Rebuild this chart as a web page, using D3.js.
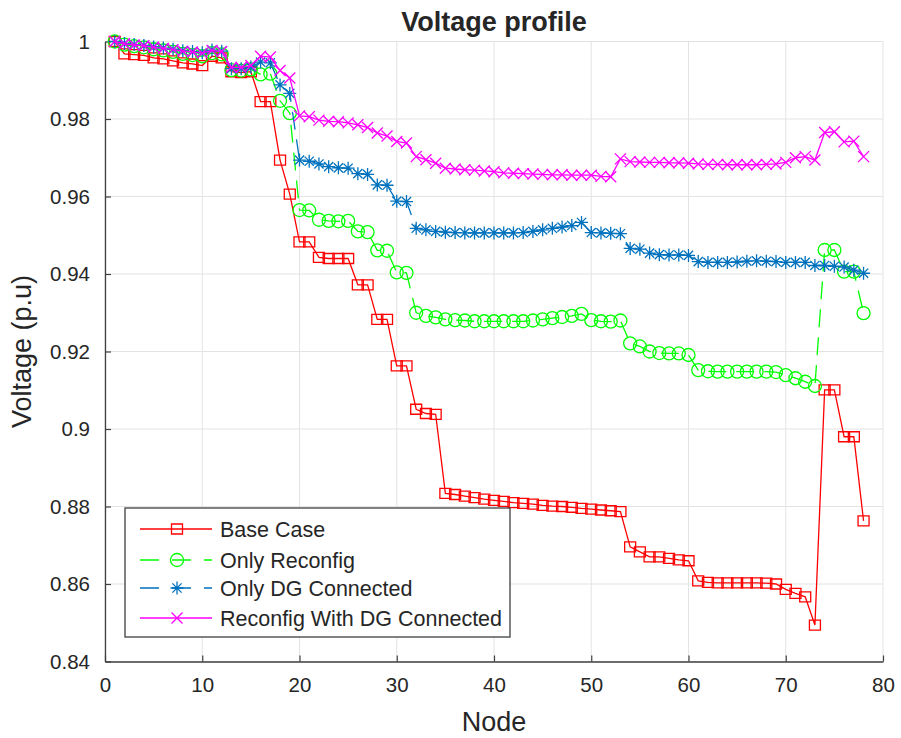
<!DOCTYPE html>
<html>
<head>
<meta charset="utf-8">
<script src="https://cdn.jsdelivr.net/npm/d3@7"></script>
<style>
  body { margin: 0; background: #fff; }
  text { font-family: "Liberation Sans", Arial, sans-serif; fill: #262626; }
</style>
</head>
<body>
<div id="chart"></div>
<script>
// Chart data
var nodes = d3.range(1, 79);

var baseCase = [1.0000, 0.9968, 0.9966, 0.9964, 0.9958, 0.9955, 0.9950, 0.9945, 0.9942, 0.9938,
  0.9962, 0.9958, 0.9922, 0.9920, 0.9922, 0.9845, 0.9845, 0.9694, 0.9606, 0.9483,
  0.9483, 0.9443, 0.9440, 0.9440, 0.9440, 0.9372, 0.9372, 0.9283, 0.9283, 0.9163,
  0.9163, 0.9051, 0.9040, 0.9038, 0.8834, 0.8831, 0.8827, 0.8823, 0.8819, 0.8816,
  0.8813, 0.8810, 0.8808, 0.8806, 0.8803, 0.8801, 0.8800, 0.8798, 0.8795, 0.8793,
  0.8791, 0.8789, 0.8787, 0.8696, 0.8683, 0.8670, 0.8670, 0.8666, 0.8662, 0.8660,
  0.8608, 0.8604, 0.8603, 0.8603, 0.8603, 0.8603, 0.8603, 0.8602, 0.8600, 0.8586,
  0.8576, 0.8567, 0.8494, 0.9101, 0.9101, 0.8980, 0.8980, 0.8763];

var onlyReconfig = [1.0000, 0.9992, 0.9988, 0.9985, 0.9980, 0.9977, 0.9973, 0.9968, 0.9965, 0.9962,
  0.9970, 0.9967, 0.9926, 0.9925, 0.9928, 0.9915, 0.9917, 0.9847, 0.9815, 0.9565,
  0.9564, 0.9540, 0.9537, 0.9536, 0.9537, 0.9510, 0.9508, 0.9461, 0.9460, 0.9404,
  0.9403, 0.9300, 0.9292, 0.9288, 0.9283, 0.9281, 0.9280, 0.9278, 0.9278, 0.9278,
  0.9278, 0.9278, 0.9278, 0.9280, 0.9283, 0.9286, 0.9289, 0.9292, 0.9297, 0.9281,
  0.9278, 0.9277, 0.9280, 0.9221, 0.9213, 0.9200, 0.9196, 0.9195, 0.9195, 0.9191,
  0.9152, 0.9149, 0.9148, 0.9148, 0.9148, 0.9148, 0.9148, 0.9148, 0.9147, 0.9139,
  0.9131, 0.9122, 0.9111, 0.9462, 0.9462, 0.9406, 0.9406, 0.9299];

var onlyDG = [1.0000, 0.9995, 0.9992, 0.9990, 0.9986, 0.9983, 0.9980, 0.9976, 0.9974, 0.9971,
  0.9978, 0.9975, 0.9930, 0.9930, 0.9934, 0.9947, 0.9945, 0.9888, 0.9866, 0.9694,
  0.9691, 0.9684, 0.9677, 0.9674, 0.9673, 0.9659, 0.9657, 0.9630, 0.9629, 0.9588,
  0.9587, 0.9518, 0.9514, 0.9510, 0.9508, 0.9507, 0.9506, 0.9506, 0.9506, 0.9506,
  0.9506, 0.9506, 0.9507, 0.9510, 0.9514, 0.9518, 0.9521, 0.9525, 0.9533, 0.9507,
  0.9506, 0.9505, 0.9504, 0.9466, 0.9464, 0.9454, 0.9450, 0.9449, 0.9449, 0.9448,
  0.9432, 0.9430, 0.9430, 0.9430, 0.9431, 0.9433, 0.9434, 0.9433, 0.9432, 0.9430,
  0.9430, 0.9430, 0.9422, 0.9422, 0.9420, 0.9418, 0.9410, 0.9402];

var reconfigDG = [1.0000, 0.9994, 0.9991, 0.9989, 0.9985, 0.9982, 0.9979, 0.9975, 0.9973, 0.9970,
  0.9977, 0.9974, 0.9933, 0.9933, 0.9938, 0.9962, 0.9960, 0.9925, 0.9906, 0.9808,
  0.9806, 0.9797, 0.9794, 0.9793, 0.9790, 0.9785, 0.9778, 0.9764, 0.9756, 0.9742,
  0.9738, 0.9703, 0.9695, 0.9686, 0.9673, 0.9671, 0.9669, 0.9668, 0.9666, 0.9664,
  0.9661, 0.9660, 0.9659, 0.9658, 0.9657, 0.9656, 0.9656, 0.9655, 0.9655, 0.9655,
  0.9652, 0.9651, 0.9697, 0.9690, 0.9689, 0.9688, 0.9688, 0.9687, 0.9687, 0.9686,
  0.9684, 0.9683, 0.9683, 0.9682, 0.9682, 0.9682, 0.9682, 0.9683, 0.9684, 0.9688,
  0.9700, 0.9703, 0.9694, 0.9765, 0.9767, 0.9741, 0.9743, 0.9703];

var seriesNames = ["Base Case", "Only Reconfig", "Only DG Connected", "Reconfig With DG Connected"];
var xTicks = [0, 10, 20, 30, 40, 50, 60, 70, 80];
var yTicks = [0.84, 0.86, 0.88, 0.9, 0.92, 0.94, 0.96, 0.98, 1];
var yTickLabels = ["0.84", "0.86", "0.88", "0.9", "0.92", "0.94", "0.96", "0.98", "1"];

// SVG specs
var svgWidth = 901;
var svgHeight = 738;
var margin = { top: 41.5, right: 18, bottom: 76.5, left: 105 };
var width = svgWidth - margin.left - margin.right;
var height = svgHeight - margin.top - margin.bottom;

var svg = d3.select("#chart")
  .append("svg")
  .attr("width", svgWidth)
  .attr("height", svgHeight)
  .style("display", "block");

svg.append("rect")
  .attr("width", svgWidth)
  .attr("height", svgHeight)
  .attr("fill", "#fff");

var chartGroup = svg.append("g")
  .attr("transform", `translate(${margin.left}, ${margin.top})`);

var xScale = d3.scaleLinear().domain([0, 80]).range([0, width]);
var yScale = d3.scaleLinear().domain([0.84, 1]).range([height, 0]);

// Grid
chartGroup.append("g")
  .selectAll("line")
  .data(xTicks)
  .enter()
  .append("line")
  .attr("x1", d => xScale(d)).attr("x2", d => xScale(d))
  .attr("y1", 0).attr("y2", height)
  .attr("stroke", "#e3e3e3").attr("stroke-width", 1);

chartGroup.append("g")
  .selectAll("line")
  .data(yTicks)
  .enter()
  .append("line")
  .attr("x1", 0).attr("x2", width)
  .attr("y1", d => yScale(d)).attr("y2", d => yScale(d))
  .attr("stroke", "#e3e3e3").attr("stroke-width", 1);

// Axes (MATLAB style: ticks inside)
var bottomAxis = d3.axisBottom(xScale).tickValues(xTicks).tickSizeInner(-6).tickSizeOuter(0).tickPadding(16);
var leftAxis = d3.axisLeft(yScale).tickValues(yTicks)
  .tickFormat((d, i) => yTickLabels[i]).tickSizeInner(-6).tickSizeOuter(0).tickPadding(15);

var xAxisG = chartGroup.append("g")
  .attr("transform", `translate(0, ${height})`)
  .call(bottomAxis);
var yAxisG = chartGroup.append("g")
  .call(leftAxis);

[xAxisG, yAxisG].forEach(function(g) {
  g.select(".domain").attr("stroke", "#404040").attr("stroke-width", 1.3);
  g.selectAll(".tick line").attr("stroke", "#404040").attr("stroke-width", 1.2);
  g.selectAll(".tick text")
    .attr("fill", "#262626")
    .style("font-family", "'Liberation Sans', Arial, sans-serif")
    .style("font-size", "20.5px");
});

// Marker shapes
function markerPath(type) {
  if (type === "square") {
    return "M-5.5,-5H5.5V5H-5.5Z";
  }
  if (type === "circle") {
    return d3.arc()({ innerRadius: 0, outerRadius: 6.5, startAngle: 0, endAngle: 2 * Math.PI });
  }
  if (type === "star") {
    var s = 6.5, t = 4.6;
    return `M${-s},0H${s}M0,${-s}V${s}M${-t},${-t}L${t},${t}M${-t},${t}L${t},${-t}`;
  }
  var c = 5.5;
  return `M${-c},${-c}L${c},${c}M${-c},${c}L${c},${-c}`;
}

var styles = [
  { values: baseCase, color: "#ff0000", dash: null, marker: "square" },
  { values: onlyReconfig, color: "#00ff00", dash: "18,10", marker: "circle" },
  { values: onlyDG, color: "#0072bd", dash: "18,10", marker: "star" },
  { values: reconfigDG, color: "#ff00ff", dash: null, marker: "cross" }
];

var line = d3.line()
  .x((d, i) => xScale(nodes[i]))
  .y(d => yScale(d));

var plotGroup = chartGroup.append("g");

styles.forEach(function(s) {
  plotGroup.append("path")
    .datum(s.values)
    .attr("d", line)
    .attr("fill", "none")
    .attr("stroke", s.color)
    .attr("stroke-width", 1.3)
    .attr("stroke-dasharray", s.dash);

  plotGroup.append("g")
    .selectAll("path")
    .data(s.values)
    .enter()
    .append("path")
    .attr("transform", (d, i) => `translate(${xScale(nodes[i])}, ${yScale(d)})`)
    .attr("d", markerPath(s.marker))
    .attr("fill", "none")
    .attr("stroke", s.color)
    .attr("stroke-width", 1.3);
});

// Title and axis labels
svg.append("text")
  .attr("x", margin.left + width / 2)
  .attr("y", 31)
  .attr("text-anchor", "middle")
  .style("font-size", "27px")
  .style("font-weight", "bold")
  .attr("fill", "#000")
  .text("Voltage profile");

svg.append("text")
  .attr("x", margin.left + width / 2)
  .attr("y", 731)
  .attr("text-anchor", "middle")
  .style("font-size", "27px")
  .text("Node");

svg.append("text")
  .attr("transform", `translate(31, ${margin.top + height / 2}) rotate(-90)`)
  .attr("text-anchor", "middle")
  .style("font-size", "27px")
  .text("Voltage (p.u)");

// Legend
var legend = svg.append("g").attr("transform", "translate(125, 508)");
legend.append("rect")
  .attr("width", 385)
  .attr("height", 129)
  .attr("fill", "#fff")
  .attr("stroke", "#404040")
  .attr("stroke-width", 1.3);

var rowY = [21, 52, 80, 110];
styles.forEach(function(s, i) {
  var row = legend.append("g").attr("transform", `translate(0, ${rowY[i]})`);
  row.append("line")
    .attr("x1", 15).attr("x2", 87)
    .attr("stroke", s.color)
    .attr("stroke-width", 1.3)
    .attr("stroke-dasharray", s.dash ? "19,13" : null);
  row.append("path")
    .attr("transform", "translate(52, 0)")
    .attr("d", markerPath(s.marker))
    .attr("fill", "none")
    .attr("stroke", s.color)
    .attr("stroke-width", 1.3);
  row.append("text")
    .attr("x", 95)
    .attr("y", 7.5)
    .style("font-size", "21.5px")
    .text(seriesNames[i]);
});
</script>
</body>
</html>
